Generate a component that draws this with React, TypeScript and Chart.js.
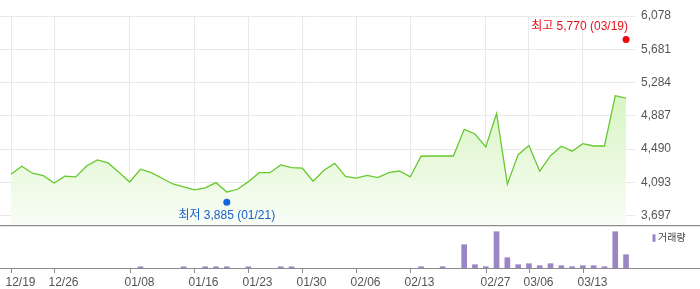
import React, { useEffect, useRef } from "react";
import { Chart, registerables } from "chart.js";

Chart.register(...registerables);

// ---- data ----
const X_TICK_INDEX = [0, 4, 11, 17, 22, 27, 32, 37, 44, 48, 53];
const X_LABELS = ["12/19", "12/26", "01/08", "01/16", "01/23", "01/30", "02/06", "02/13", "02/27", "03/06", "03/13"];

const PRICE = [
  4191, 4286, 4203, 4174, 4087, 4167, 4159, 4290, 4362, 4326,
  4215, 4099, 4251, 4210, 4143, 4075, 4040, 4004, 4028, 4091,
  3980, 4012, 4103, 4210, 4210, 4302, 4270, 4263, 4108, 4239,
  4320, 4165, 4145, 4177, 4151, 4210, 4230, 4159, 4406, 4409,
  4409, 4409, 4727, 4671, 4516, 4916, 4073, 4425, 4534, 4227,
  4412, 4525, 4466, 4556, 4528, 4528, 5128, 5098,
];

const VOLUME = [
  0, 0, 0, 0, 0, 0, 0, 0, 0, 0,
  0, 0, 120, 0, 0, 0, 120, 0, 120, 120,
  120, 0, 120, 0, 0, 120, 120, 0, 0, 0,
  0, 0, 0, 0, 0, 0, 0, 0, 130, 0,
  130, 0, 2330, 330, 130, 3630, 1030, 330, 430, 230,
  430, 230, 130, 230, 230, 130, 3630, 1330,
];

const Y_TICKS = [3697, 4093, 4490, 4887, 5284, 5681, 6078];
const Y_MIN = 3586;
const Y_MAX = 6078;
const VOL_MAX = 4100;

const HIGH_INDEX = 57;
const HIGH_VALUE = 5770;
const HIGH_DATE = "03/19";
const LOW_INDEX = 20;
const LOW_VALUE = 3885;
const LOW_DATE = "01/21";

const VOLUME_LABEL = "거래량";

// ---- layout constants ----
const X_MIN = -1.02;
const X_MAX = 57.83;
const TICK_FONT = { family: "'Liberation Sans', Arial, sans-serif", size: 12 };
const fmt = (v: number) => v.toLocaleString("en-US");

const priceDecor = {
  id: "priceDecor",
  afterDatasetsDraw(chart: any) {
    const { ctx, scales, chartArea } = chart;
    const x = scales.x;
    const y = scales.y;
    const items = [
      { idx: HIGH_INDEX, val: HIGH_VALUE, text: `최고 ${fmt(HIGH_VALUE)} (${HIGH_DATE})`, dot: "#f2070f", color: "#e5121a", dir: -1 },
      { idx: LOW_INDEX, val: LOW_VALUE, text: `최저 ${fmt(LOW_VALUE)} (${LOW_DATE})`, dot: "#1565dc", color: "#1c5fcc", dir: 1 },
    ];
    ctx.save();
    for (const it of items) {
      const px = x.getPixelForValue(it.idx);
      const py = y.getPixelForValue(it.val) + it.dir * 2.4;
      ctx.beginPath();
      ctx.fillStyle = it.dot;
      ctx.arc(px, py, 3.5, 0, Math.PI * 2);
      ctx.fill();
      ctx.font = "12px 'Liberation Sans', 'Noto Sans CJK KR', sans-serif";
      const w = ctx.measureText(it.text).width;
      let cx = px;
      if (cx + w / 2 > chartArea.right - 7) cx = chartArea.right - 7 - w / 2;
      ctx.fillStyle = it.color;
      ctx.textAlign = "center";
      ctx.textBaseline = "middle";
      ctx.fillText(it.text, cx, py + it.dir * 13.2);
    }
    ctx.restore();
  },
  afterDraw(chart: any) {
    const { ctx, width, chartArea } = chart;
    ctx.save();
    ctx.strokeStyle = "#8c8c8c";
    ctx.lineWidth = 1;
    ctx.beginPath();
    ctx.moveTo(0, chartArea.bottom + 0.5);
    ctx.lineTo(width, chartArea.bottom + 0.5);
    ctx.stroke();
    ctx.restore();
  },
};

const volDecor = {
  id: "volDecor",
  afterDraw(chart: any) {
    const { ctx, width, chartArea, scales } = chart;
    ctx.save();
    ctx.strokeStyle = "#e4e4e4";
    ctx.lineWidth = 1;
    ctx.beginPath();
    ctx.moveTo(0, 0.5);
    ctx.lineTo(width, 0.5);
    ctx.stroke();
    ctx.strokeStyle = "#8c8c8c";
    ctx.beginPath();
    ctx.moveTo(0, chartArea.bottom + 0.5);
    ctx.lineTo(width, chartArea.bottom + 0.5);
    ctx.stroke();
    // x tick marks + labels
    ctx.font = "12px 'Liberation Sans', Arial, sans-serif";
    ctx.fillStyle = "#555";
    ctx.textAlign = "center";
    ctx.textBaseline = "middle";
    X_TICK_INDEX.forEach((idx, i) => {
      const px = Math.round(scales.x.getPixelForValue(idx)) + 0.5;
      ctx.beginPath();
      ctx.moveTo(px, chartArea.bottom);
      ctx.lineTo(px, chartArea.bottom + 5);
      ctx.stroke();
      ctx.fillText(X_LABELS[i], px + 9, chartArea.bottom + 14.5);
    });
    // legend
    ctx.fillStyle = "#9b86c5";
    ctx.fillRect(652.5, 8.3, 3, 7.5);
    ctx.fillStyle = "#444";
    ctx.font = "10px 'Noto Sans CJK KR', sans-serif";
    ctx.textAlign = "left";
    ctx.textBaseline = "middle";
    ctx.fillText(VOLUME_LABEL, 658, 11.5);
    ctx.restore();
  },
};

export default function App() {
  const priceRef = useRef<HTMLCanvasElement>(null);
  const volRef = useRef<HTMLCanvasElement>(null);

  useEffect(() => {
    document.body.style.margin = "0";
    const gridColor = "#e9e9e9";

    const priceChart = new Chart(priceRef.current!, {
      type: "line",
      data: {
        datasets: [
          {
            data: PRICE.map((v, i) => ({ x: i, y: v })),
            borderColor: "#66c92e",
            borderWidth: 1.3,
            pointRadius: 0,
            tension: 0,
            fill: "start",
            backgroundColor: (c: any) => {
              const { chart } = c;
              const area = chart.chartArea;
              if (!area) return "rgba(200,240,170,0.5)";
              const g = chart.ctx.createLinearGradient(0, area.top, 0, area.bottom);
              g.addColorStop(0, "#c6efa6");
              g.addColorStop(1, "#f8fdf5");
              return g;
            },
          },
        ],
      },
      options: {
        animation: false,
        responsive: false,
        layout: { padding: { top: 16, bottom: 1, left: 0, right: 0 } },
        plugins: { legend: { display: false }, tooltip: { enabled: false } },
        scales: {
          x: {
            type: "linear",
            min: X_MIN,
            max: X_MAX,
            afterBuildTicks: (s: any) => {
              s.ticks = X_TICK_INDEX.map((v) => ({ value: v }));
            },
            ticks: { display: false },
            grid: { color: gridColor, drawTicks: false },
            border: { display: false },
            afterFit: (s: any) => {
              s.height = 0;
            },
          },
          y: {
            position: "right",
            min: Y_MIN,
            max: Y_MAX,
            afterBuildTicks: (s: any) => {
              s.ticks = Y_TICKS.map((v) => ({ value: v }));
            },
            ticks: {
              callback: (v: any) => fmt(Number(v)),
              padding: 6,
              color: "#555",
              font: TICK_FONT,
            },
            grid: { color: gridColor, drawTicks: false },
            border: { display: false },
            afterFit: (s: any) => {
              s.width = 65;
              s.paddingTop = 0;
              s.paddingBottom = 0;
            },
          },
        },
      } as any,
      plugins: [priceDecor],
    });

    const volChart = new Chart(volRef.current!, {
      type: "bar",
      data: {
        datasets: [
          {
            data: VOLUME.map((v, i) => ({ x: i, y: v > 0 ? v : null })),
            backgroundColor: "#9b86c5",
            barThickness: 5,
          },
        ],
      },
      options: {
        animation: false,
        responsive: false,
        layout: { padding: { top: 1, bottom: 0, left: 0, right: 65 } },
        plugins: { legend: { display: false }, tooltip: { enabled: false } },
        scales: {
          x: {
            type: "linear",
            offset: false,
            min: X_MIN,
            max: X_MAX,
            afterBuildTicks: (s: any) => {
              s.ticks = X_TICK_INDEX.map((v) => ({ value: v }));
            },
            ticks: { display: false, padding: 0 },
            grid: { display: false },
            border: { display: false },
            afterFit: (s: any) => {
              s.height = 21;
            },
          },
          y: { display: false, min: 0, max: VOL_MAX },
        },
      } as any,
      plugins: [volDecor],
    });

    return () => {
      priceChart.destroy();
      volChart.destroy();
    };
  }, []);

  return (
    <div style={{ position: "absolute", left: 0, top: 0, width: 700, height: 289, background: "#fff" }}>
      <canvas ref={priceRef} width={700} height={226} style={{ position: "absolute", left: 0, top: 0 }} />
      <canvas ref={volRef} width={700} height={63} style={{ position: "absolute", left: 0, top: 226 }} />
    </div>
  );
}
